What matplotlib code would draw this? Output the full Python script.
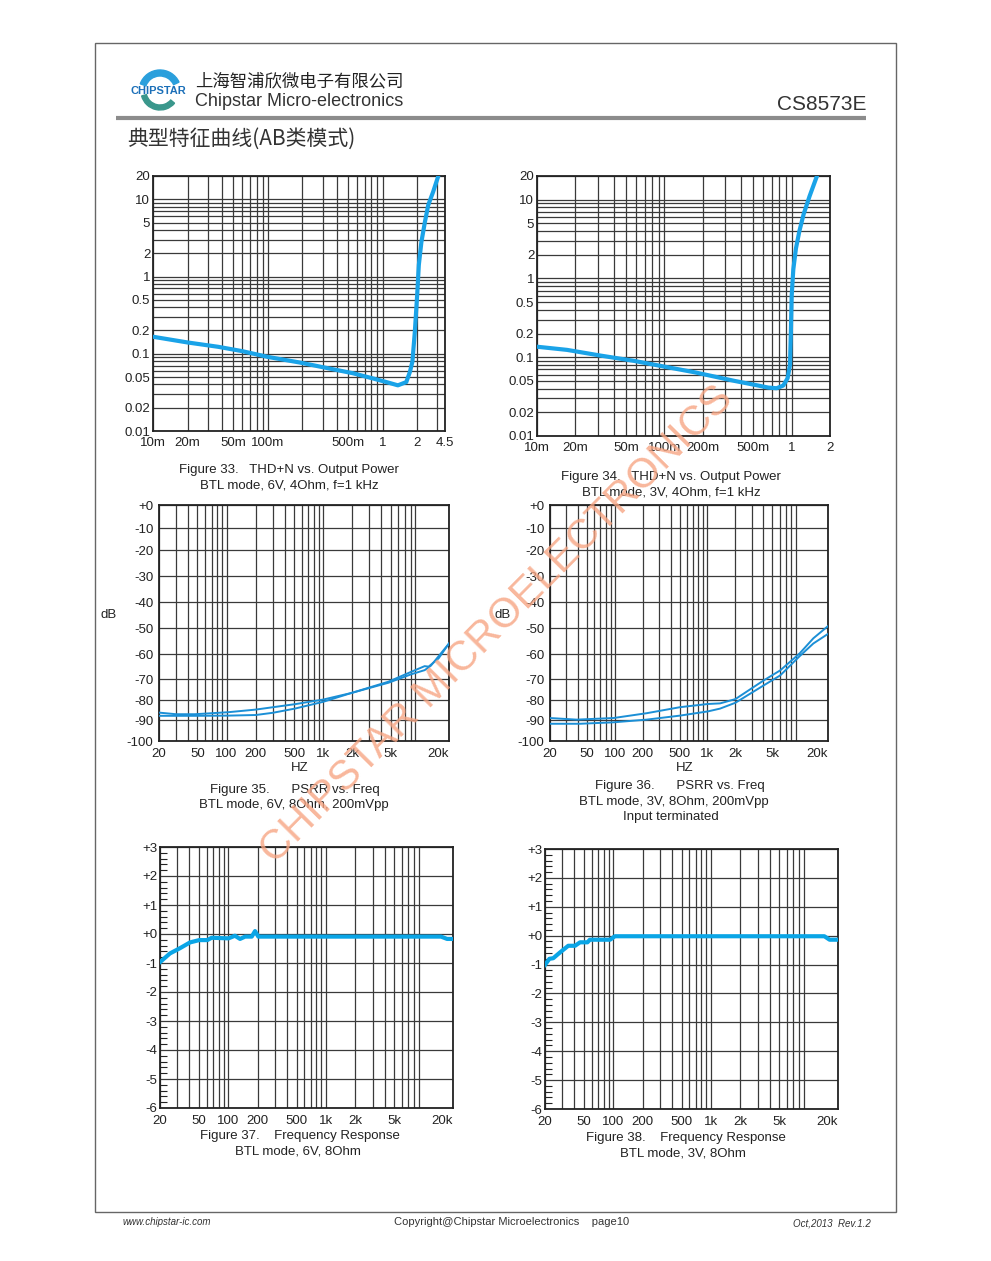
import numpy as np
import matplotlib
matplotlib.use('Agg')
import matplotlib.pyplot as plt
from matplotlib.ticker import LogLocator, MultipleLocator, NullFormatter, NullLocator
from matplotlib.patches import Rectangle, Wedge

plt.rcParams['font.family'] = ['Liberation Sans', 'Noto Sans CJK SC', 'DejaVu Sans']

W, H = 991, 1261

# Figure 33: THD+N (%) vs output power (W), BTL 6V 4Ohm
thd6_pout = [0.01, 0.02, 0.037, 0.06, 0.1, 0.19, 0.37, 0.55, 0.82, 1.08, 1.36, 1.61, 1.73,
             1.82, 1.91, 2.01, 2.07, 2.18, 2.34, 2.5, 2.76, 3.06]
thd6_val = [0.166, 0.14, 0.123, 0.108, 0.091, 0.077, 0.063, 0.056, 0.048, 0.043, 0.039, 0.043,
            0.058, 0.079, 0.19, 0.63, 1.41, 2.8, 5.1, 8.4, 12.5, 20]
thd6_xticks = [0.01, 0.02, 0.05, 0.1, 0.5, 1, 2, 3.5]
thd6_xlabels = ['10m', '20m', '50m', '100m', '500m', '1', '2', '4.5']

# Figure 34: THD+N (%) vs output power (W), BTL 3V 4Ohm
thd3_pout = [0.01, 0.0172, 0.0315, 0.0577, 0.1, 0.172, 0.248, 0.357, 0.513, 0.654, 0.761, 0.859,
             0.929, 0.97, 0.985, 1.0, 1.03, 1.08, 1.15, 1.24, 1.38, 1.58]
thd3_val = [0.136, 0.124, 0.105, 0.09, 0.076, 0.0645, 0.0568, 0.05, 0.0446, 0.0412, 0.0404, 0.0437,
            0.0541, 0.08, 0.2, 0.6, 1.3, 2.4, 4.0, 6.5, 11.0, 20]
thd3_xticks = [0.01, 0.02, 0.05, 0.1, 0.2, 0.5, 1, 2]
thd3_xlabels = ['10m', '20m', '50m', '100m', '200m', '500m', '1', '2']

thd_yticks = [0.01, 0.02, 0.05, 0.1, 0.2, 0.5, 1, 2, 5, 10, 20]
thd_ylabels = ['0.01', '0.02', '0.05', '0.1', '0.2', '0.5', '1', '2', '5', '10', '20']

# Figure 35: PSRR vs freq, 6V
psrr6_f_a = [20, 30, 47, 104, 200, 509, 1000, 1970, 4730, 8200, 11200, 12300, 15600, 20000]
psrr6_db_a = [-86.2, -87.0, -87.0, -86.0, -84.7, -82.0, -79.7, -76.5, -71.1, -66.9, -64.7, -64.9,
              -61.6, -55.8]
psrr6_f_b = [20, 47, 104, 200, 300, 509, 1000, 1970, 4730, 8200, 11200, 13000, 20000]
psrr6_db_b = [-87.8, -87.8, -87.7, -87.4, -86.3, -84.2, -80.8, -76.5, -71.6, -67.9, -66.3, -64.5,
              -55.8]

# Figure 36: PSRR vs freq, 3V, input terminated
psrr3_f_a = [20, 38.7, 96.9, 221, 505, 1010, 1370, 2000, 4040, 6100, 9900, 13900, 20000]
psrr3_db_a = [-88.9, -89.7, -88.9, -86.5, -83.5, -81.9, -81.6, -79.5, -70.5, -66.4, -59.6, -53.8,
              -49.1]
psrr3_f_b = [20, 42.3, 96.9, 221, 505, 1010, 1370, 2000, 4040, 6100, 9900, 13900, 20000]
psrr3_db_b = [-91.7, -91.7, -91.0, -89.7, -87.7, -85.6, -84.2, -81.3, -72.9, -68.4, -60.7, -55.8,
              -52.1]

psrr_ticks = [0, -10, -20, -30, -40, -50, -60, -70, -80, -90, -100]
psrr_labels = ['+0', '-10', '-20', '-30', '-40', '-50', '-60', '-70', '-80', '-90', '-100']
# the printed dB grid is not evenly spaced: height fraction of each 10 dB line (bottom = 0)
psrr_grid_db = [-100, -90, -80, -70, -60, -50, -40, -30, -20, -10, 0]
psrr_grid_frac = [0, 0.088, 0.173, 0.261, 0.367, 0.477, 0.587, 0.699, 0.809, 0.901, 1.0]

freq_ticks = [20, 50, 100, 200, 500, 1000, 2000, 5000, 20000]
freq_labels = ['20', '50', '100', '200', '500', '1k', '2k', '5k', '20k']

# Figure 37/38: frequency response (dB)
fr6_f = [20, 25.3, 32.0, 40.6, 50.5, 61, 67.6, 100.5, 117, 132, 148.7, 174, 188, 203,
         15100, 17400, 20000]
fr6_db = [-0.97, -0.67, -0.49, -0.29, -0.21, -0.21, -0.13, -0.15, -0.06, -0.17, -0.09, -0.09,
          0.1, -0.09, -0.09, -0.17, -0.17]
fr3_f = [20, 22.2, 24.3, 28.5, 34.6, 40.6, 45.7, 54.4, 57.6, 92.8, 104, 14500, 16400, 20000]
fr3_db = [-1.01, -0.8, -0.78, -0.58, -0.35, -0.35, -0.23, -0.23, -0.14, -0.14, -0.02, -0.02,
          -0.14, -0.14]
fr_ticks = [3, 2, 1, 0, -1, -2, -3, -4, -5, -6]
fr_labels = ['+3', '+2', '+1', '+0', '-1', '-2', '-3', '-4', '-5', '-6']

GRID = '#3a3a3a'
INK = '#222222'

fig = plt.figure(figsize=(W / 100, H / 100), dpi=100)
fig.patch.set_facecolor('white')


def box(l, t, r, b):
    """axes from pixel edges"""
    return fig.add_axes([l / W, 1 - b / H, (r - l) / W, (b - t) / H])


def txt(x, y, s, **kw):
    kw.setdefault('ha', 'center')
    kw.setdefault('va', 'center')
    kw.setdefault('color', INK)
    return fig.text(x / W, 1 - y / H, s, **kw)


def base_style(ax):
    for s in ax.spines.values():
        s.set_linewidth(1.3)
        s.set_color(INK)
    ax.tick_params(which='both', length=0, labelsize=9.5, colors=INK)
    ax.set_axisbelow(True)


def log_x(ax, lo, hi, ticks, labels, pad=4):
    ax.set_xscale('log')
    ax.set_xlim(lo, hi)
    ax.set_xticks(ticks, labels)
    ax.xaxis.set_minor_locator(LogLocator(base=10, subs=np.arange(2, 10), numticks=50))
    ax.xaxis.set_minor_formatter(NullFormatter())
    ax.tick_params(axis='x', pad=pad)


def thd_chart(ax, pout, val, xmax, xticks, xlabels):
    base_style(ax)
    log_x(ax, 0.01, xmax, xticks, xlabels, pad=4)
    ax.set_yscale('log')
    ax.set_ylim(0.01, 20)
    ax.set_yticks(thd_yticks, thd_ylabels)
    ax.yaxis.set_minor_locator(LogLocator(base=10, subs=np.arange(2, 10), numticks=50))
    ax.yaxis.set_minor_formatter(NullFormatter())
    ax.tick_params(axis='y', pad=2)
    ax.grid(True, which='both', color=GRID, linewidth=0.9)
    ax.plot(pout, val, color='#1aa3e8', linewidth=3, solid_capstyle='round', zorder=3)


def psrr_chart(ax, fa, da, fb, db):
    base_style(ax)
    log_x(ax, 20, 20000, freq_ticks, freq_labels, pad=5)
    fwd = lambda v: np.interp(v, psrr_grid_db, psrr_grid_frac)
    inv = lambda p: np.interp(p, psrr_grid_frac, psrr_grid_db)
    ax.set_yscale('function', functions=(fwd, inv))
    ax.set_ylim(-100, 0)
    ax.set_yticks(psrr_ticks, psrr_labels)
    ax.yaxis.set_minor_locator(NullLocator())
    ax.tick_params(axis='y', pad=4)
    ax.grid(True, which='both', axis='x', color=GRID, linewidth=0.9)
    ax.grid(True, which='major', axis='y', color=GRID, linewidth=0.9)
    ax.plot(fa, da, color='#1b8fd6', linewidth=1.4, zorder=3)
    ax.plot(fb, db, color='#1b8fd6', linewidth=1.4, zorder=3)
    ax.get_xticklabels()[-1].set_ha('right')


def fr_chart(ax, f, d):
    base_style(ax)
    log_x(ax, 20, 20000, freq_ticks, freq_labels, pad=5)
    ax.set_ylim(-6, 3)
    ax.set_yticks(fr_ticks, fr_labels)
    ax.yaxis.set_minor_locator(MultipleLocator(0.2))
    ax.tick_params(axis='y', which='minor', direction='in', length=5, width=0.8,
                   left=True, right=False)
    ax.tick_params(axis='y', which='major', pad=2)
    ax.grid(True, which='both', axis='x', color=GRID, linewidth=0.9)
    ax.grid(True, which='major', axis='y', color=GRID, linewidth=0.9)
    ax.plot(f, d, color='#0aa5e6', linewidth=3, solid_joinstyle='round', zorder=3)
    ax.get_xticklabels()[-1].set_ha('right')


# page furniture in pixel coordinates
page = fig.add_axes([0, 0, 1, 1], zorder=-1)
page.set_xlim(0, W)
page.set_ylim(H, 0)
page.axis('off')
page.add_patch(Rectangle((95, 43), 801, 1169, fill=False, ec='#666666', lw=1))
page.plot([116, 866], [118, 118], color='#8c8c8c', lw=3, solid_capstyle='butt')
page.add_patch(Wedge((160, 91), 21, 200, 335, width=6, color='#2a9fdc'))
page.add_patch(Wedge((160, 91), 19, 40, 165, width=5, color='#3a978c'))

txt(158, 91, 'CHIPSTAR', fontsize=8, fontweight='bold', color='#1b6fb8')
txt(195, 81, '上海智浦欣微电子有限公司', ha='left', fontsize=12.5,
    family=['Noto Sans CJK SC', 'DejaVu Sans'], color='#222222')
txt(195, 102, 'Chipstar Micro-electronics', ha='left', fontsize=13, color='#333333')
txt(866, 104, 'CS8573E', ha='right', fontsize=15, color='#333333')
txt(127, 139, '典型特征曲线(AB类模式)', ha='left', fontsize=15,
    family=['Noto Sans CJK SC', 'DejaVu Sans'], color='#333333')

# charts
ax1 = box(153, 176, 445, 431)
thd_chart(ax1, thd6_pout, thd6_val, 3.5, thd6_xticks, thd6_xlabels)
ax2 = box(537, 176, 830, 436)
thd_chart(ax2, thd3_pout, thd3_val, 2, thd3_xticks, thd3_xlabels)
ax3 = box(159, 505, 449, 741)
psrr_chart(ax3, psrr6_f_a, psrr6_db_a, psrr6_f_b, psrr6_db_b)
ax4 = box(550, 505, 828, 741)
psrr_chart(ax4, psrr3_f_a, psrr3_db_a, psrr3_f_b, psrr3_db_b)
ax5 = box(160, 847, 453, 1108)
fr_chart(ax5, fr6_f, fr6_db)
ax6 = box(545, 849, 838, 1109)
fr_chart(ax6, fr3_f, fr3_db)

# captions and axis names
cap = dict(fontsize=9.5)
txt(289, 470, 'Figure 33.   THD+N vs. Output Power', **cap)
txt(289, 486, 'BTL mode, 6V, 4Ohm, f=1 kHz', **cap)
txt(671, 477, 'Figure 34.   THD+N vs. Output Power', **cap)
txt(671, 493, 'BTL mode, 3V, 4Ohm, f=1 kHz', **cap)
txt(109, 615, 'dB', fontsize=9.5)
txt(300, 768, 'HZ', fontsize=9.5)
txt(295, 790, 'Figure 35.      PSRR vs. Freq', **cap)
txt(294, 805, 'BTL mode, 6V, 8Ohm, 200mVpp', **cap)
txt(503, 615, 'dB', fontsize=9.5)
txt(685, 768, 'HZ', fontsize=9.5)
txt(680, 786, 'Figure 36.      PSRR vs. Freq', **cap)
txt(674, 802, 'BTL mode, 3V, 8Ohm, 200mVpp', **cap)
txt(671, 817, 'Input terminated', **cap)
txt(300, 1136, 'Figure 37.    Frequency Response', **cap)
txt(298, 1151, 'BTL mode, 6V, 8Ohm', **cap)
txt(686, 1138, 'Figure 38.    Frequency Response', **cap)
txt(683, 1153, 'BTL mode, 3V, 8Ohm', **cap)

# footer
txt(123, 1222, 'www.chipstar-ic.com', ha='left', fontsize=7, style='italic', color='#333333')
txt(512, 1222, 'Copyright@Chipstar Microelectronics    page10', fontsize=8, color='#333333')
txt(871, 1224, 'Oct,2013  Rev.1.2', ha='right', fontsize=7, style='italic', color='#333333')

# watermark over everything
wm = txt(497, 625, 'CHIPSTAR MICROELECTRONICS', fontsize=30, rotation=45.3,
         color='#f7a583', alpha=0.8, rotation_mode='anchor')
wm.set_zorder(10)

fig.savefig('out.png', dpi=100, facecolor='white')
